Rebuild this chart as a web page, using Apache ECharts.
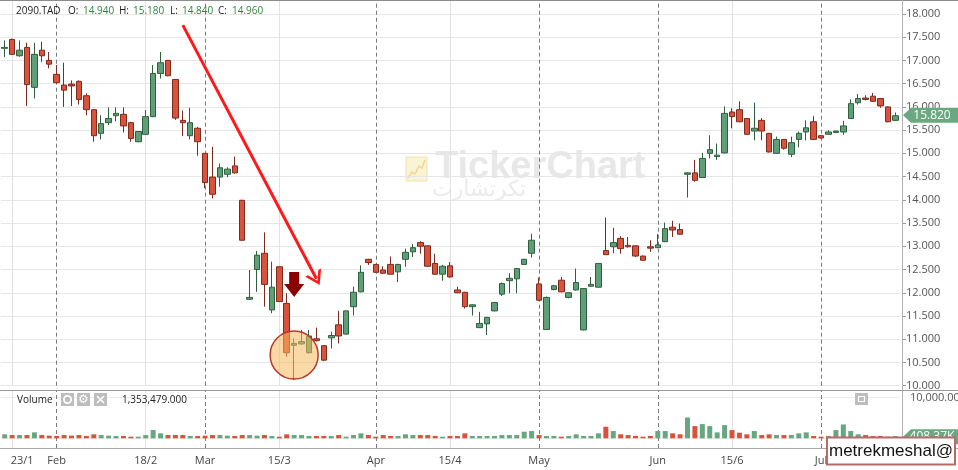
<!DOCTYPE html>
<html>
<head>
<meta charset="utf-8">
<script src="https://cdn.jsdelivr.net/npm/echarts@6/dist/echarts.min.js"></script>
<style>
  html, body { margin: 0; padding: 0; background: #fff; }
  #chart { width: 958px; height: 470px; }
</style>
</head>
<body>
<div id="chart"></div>
<script>
// trading days (Sun-Thu), 2020
const dates = [
  '22/1','23/1','26/1','27/1','28/1','29/1','30/1',
  '2/2','3/2','4/2','5/2','6/2','9/2','10/2','11/2','12/2','13/2',
  '16/2','17/2','18/2','19/2','20/2','23/2','24/2','25/2','26/2','27/2',
  '1/3','2/3','3/3','4/3','5/3','8/3','9/3','10/3','11/3','12/3',
  '15/3','16/3','17/3','18/3','19/3','22/3','23/3','24/3','25/3','26/3',
  '29/3','30/3','31/3','1/4','2/4','5/4','6/4','7/4','8/4','9/4',
  '12/4','13/4','14/4','15/4','16/4','19/4','20/4','21/4','22/4','23/4',
  '26/4','27/4','28/4','29/4','30/4','3/5','4/5','5/5','6/5','7/5',
  '10/5','11/5','12/5','13/5','14/5','17/5','18/5','19/5','20/5','21/5',
  '31/5','1/6','2/6','3/6','4/6','7/6','8/6','9/6','10/6','11/6',
  '14/6','15/6','16/6','17/6','18/6','21/6','22/6','23/6','24/6','25/6',
  '28/6','29/6','30/6','1/7','2/7','5/7','6/7','7/7','8/7','9/7',
  '12/7','13/7','14/7','15/7'
];

const opens = [
  17.26,17.45,17.10,17.28,16.42,17.22,17.00,16.70,16.47,16.49,
  16.55,16.24,15.94,15.43,15.66,15.81,15.84,15.66,15.25,15.41,
  15.79,16.72,17.00,16.59,15.71,15.38,15.54,15.00,14.49,14.49,
  14.55,14.73,13.99,11.86,12.50,12.85,11.63,12.56,11.77,10.87,
  10.90,10.71,11.01,10.86,11.03,11.31,11.11,11.70,12.02,12.72,
  12.61,12.49,12.61,12.45,12.72,12.88,13.08,13.01,12.63,12.40,
  12.58,12.06,12.01,11.70,11.25,11.33,11.61,11.97,12.26,12.30,
  12.61,12.85,12.19,11.21,12.07,12.27,11.90,12.06,11.20,12.14,
  12.12,12.91,12.99,13.17,13.02,13.01,12.79,12.99,12.97,13.10,
  13.41,13.36,14.55,14.58,14.48,15.00,14.93,15.01,15.89,15.94,
  15.75,15.48,15.71,15.43,15.00,15.30,14.98,15.30,15.46,15.68,
  15.38,15.41,15.45,15.46,15.75,16.09,16.19,16.23,16.18,16.00,
  15.71
];
const closes = [
  17.28,17.13,17.22,16.48,17.13,17.10,16.92,16.52,16.36,16.45,
  16.16,15.94,15.38,15.64,15.75,15.86,15.59,15.32,15.47,15.79,
  16.72,16.95,16.67,15.76,15.66,15.66,15.25,14.37,14.12,14.69,
  14.66,14.58,13.13,11.90,12.81,12.18,12.12,11.81,10.71,10.91,
  10.95,11.07,10.97,10.55,11.08,11.07,11.61,12.01,12.44,12.65,
  12.44,12.42,12.40,12.61,12.87,12.97,13.00,12.57,12.40,12.57,
  12.34,12.00,11.70,11.74,11.34,11.47,11.79,12.20,12.31,12.52,
  12.72,13.13,11.84,11.90,12.15,12.02,12.00,12.22,12.09,12.18,
  12.63,12.82,13.08,12.95,12.99,12.79,12.70,12.96,13.03,13.38,
  13.35,13.26,14.58,14.42,14.89,15.08,14.96,15.86,15.79,15.68,
  15.41,15.54,15.48,15.03,15.30,15.11,15.23,15.43,15.55,15.30,
  15.33,15.46,15.48,15.59,16.07,16.18,16.16,16.12,16.02,15.68,
  15.81
];
const lows = [
  17.07,17.12,17.08,16.02,16.18,16.97,16.83,16.50,16.00,16.02,
  16.05,15.82,15.25,15.30,15.61,15.69,15.45,15.25,15.24,15.40,
  15.78,16.61,16.66,15.72,15.37,15.30,14.95,14.25,14.03,14.28,
  14.49,14.56,13.12,11.85,12.02,11.70,11.56,11.80,10.62,10.12,
  10.88,10.69,10.95,10.53,10.80,10.91,11.10,11.51,12.01,12.60,
  12.43,12.41,12.39,12.23,12.56,12.77,12.84,12.56,12.39,12.26,
  12.33,11.99,11.66,11.51,11.24,11.09,11.60,11.93,11.99,11.99,
  12.60,12.76,11.83,11.20,12.05,12.01,11.88,12.05,11.19,12.13,
  12.11,12.81,12.85,12.84,12.97,12.77,12.69,12.88,12.96,13.09,
  13.20,13.25,14.05,14.39,14.47,14.89,14.86,15.00,15.54,15.67,
  15.40,15.28,15.28,15.02,14.99,15.08,14.92,15.13,15.28,15.29,
  15.32,15.40,15.44,15.40,15.74,16.05,16.14,16.11,15.98,15.67,
  15.70
];
const highs = [
  17.43,17.47,17.43,17.38,17.38,17.40,17.18,16.90,16.95,16.57,
  16.57,16.29,15.94,15.82,15.99,15.99,15.99,15.68,15.48,15.93,
  16.90,17.18,17.01,16.60,15.92,15.98,15.57,15.00,15.14,14.78,
  14.70,14.93,14.00,12.49,12.90,13.30,12.67,12.57,11.99,11.02,
  11.20,11.20,11.25,10.87,11.16,11.61,11.62,12.13,12.59,12.73,
  12.62,12.57,12.78,12.62,12.95,13.05,13.11,13.02,12.84,12.60,
  12.66,12.13,12.02,11.75,11.59,11.48,11.80,12.22,12.42,12.53,
  12.73,13.27,12.33,11.92,12.17,12.34,12.01,12.52,12.10,12.34,
  12.64,13.62,13.40,13.22,13.20,13.02,12.80,13.13,13.26,13.51,
  13.55,13.49,14.59,14.86,15.01,15.39,15.21,16.01,15.97,16.12,
  15.76,16.09,15.76,15.44,15.36,15.31,15.36,15.47,15.71,15.80,
  15.39,15.50,15.49,15.70,16.16,16.28,16.25,16.30,16.19,16.01,
  15.88
];
// volume in thousands
const volumes = [
  980,800,800,800,1460,800,650,570,800,650,
  800,570,980,800,650,570,570,400,400,800,
  2030,1220,800,800,800,570,570,650,800,800,
  650,570,800,800,650,800,570,400,980,800,
  800,570,570,570,570,800,400,800,1220,800,
  400,800,570,570,980,800,800,800,570,400,
  570,570,1220,570,570,570,570,800,800,800,
  1630,1790,800,570,570,400,570,980,570,570,
  1220,2850,1790,980,800,570,400,570,1790,1790,
  1220,980,5120,3010,3500,3010,1460,3250,2030,1380,
  980,1790,800,980,800,800,800,1220,1460,570,
  400,570,2030,3410,1790,980,800,570,570,400,
  570
];

const tickDates  = ['23/1','2/2','18/2','1/3','15/3','1/4','15/4','3/5','1/6','15/6','1/7'];
const tickLabels = ['23/1','Feb','18/2','Mar','15/3','Apr','15/4','May','Jun','15/6','Jul'];
const tickMonth  = [false,true,false,true,false,true,false,true,true,false,true];

const priceMin = 10, priceMax = 18.3, priceStep = 0.5;
const volMin = -2390, volMax = 11900, volLabel = 10000;

const lastPrice = 15.82;
const lastVolume = 408.37;
const header = { symbol: '2090.TAD', o: '14.940', h: '15.180', l: '14.840', c: '14.960' };
const shownVolume = '1,353,479.000';

// annotations (category index, price)
const trendFrom = [24, 17.76];
const trendTo = [42, 12.30];
const focusIdx = 39;
const focusPrice = 10.66;
const pointerPrice = 12.18;

const UP = '#5f9f78', UP_B = '#2f5f3f';
const DOWN = '#d9533c', DOWN_B = '#7d2b1f';
const FONT = 'Open Sans';

const chart = echarts.init(document.getElementById('chart'));

const candleData = opens.map((o, i) => [o, closes[i], lows[i], highs[i]]);
const volData = volumes.map((v, i) => ({
  value: v,
  itemStyle: { color: closes[i] >= opens[i] ? '#67a680' : '#d9533c' }
}));

const vLines = tickDates.map((d, k) => ({
  xAxis: d,
  lineStyle: tickMonth[k]
    ? { color: '#7a7a7a', type: [4, 3], width: 1 }
    : { color: '#e2e2e2', type: 'solid', width: 1 }
}));

const option = {
  animation: false,
  backgroundColor: '#fff',
  grid: [
    { left: 1, width: 898, top: 0, height: 385.7, outerBoundsMode: 'none', containLabel: false },
    { left: 1, width: 898, top: 390, height: 58, outerBoundsMode: 'none', containLabel: false }
  ],
  xAxis: [
    { type: 'category', gridIndex: 0, data: dates, boundaryGap: true, show: false },
    {
      type: 'category', gridIndex: 1, data: dates, boundaryGap: true,
      axisLine: { show: false }, axisTick: { show: false },
      splitLine: { show: false },
      axisLabel: {
        interval: (idx, val) => tickDates.indexOf(val) >= 0,
        formatter: (val) => {
          const k = tickDates.indexOf(val);
          if (k < 0) return '';
          return k === 0 ? '{s|' + tickLabels[k] + '}' : tickLabels[k];
        },
        margin: 7, color: '#444', fontSize: 11, fontFamily: FONT,
        rich: { s: { padding: [0, 0, 0, 20], color: '#444', fontSize: 11, fontFamily: FONT } }
      }
    }
  ],
  yAxis: [
    {
      type: 'value', gridIndex: 0, position: 'right', offset: 3,
      min: priceMin, max: priceMax, interval: priceStep,
      axisLine: { show: false },
      axisTick: { show: true, length: 4, lineStyle: { color: '#999' } },
      axisLabel: {
        showMaxLabel: false, margin: 4, color: '#555', fontSize: 11, fontFamily: FONT,
        formatter: (v) => v.toFixed(3)
      },
      splitLine: { lineStyle: { color: '#e6e6e6' } }
    },
    {
      type: 'value', gridIndex: 1, position: 'right', offset: 3,
      min: volMin, max: volMax, splitNumber: 1, minInterval: volLabel, maxInterval: volLabel,
      axisLine: { show: false },
      axisTick: { show: false },
      axisLabel: {
        showMinLabel: false, showMaxLabel: false, margin: 8,
        color: '#555', fontSize: 11, fontFamily: FONT,
        formatter: (v) => v === volLabel ? '10,000.00K' : ''
      },
      splitLine: { lineStyle: { color: '#ececec' } }
    }
  ],
  series: [
    {
      type: 'line', xAxisIndex: 0, yAxisIndex: 0, data: dates.map(() => null),
      symbol: 'none', silent: true,
      markLine: { z: 1, silent: true, symbol: 'none', label: { show: false }, data: vLines }
    },
    {
      type: 'line', xAxisIndex: 1, yAxisIndex: 1, data: dates.map(() => null),
      symbol: 'none', silent: true,
      markLine: { z: 1, silent: true, symbol: 'none', label: { show: false }, data: vLines }
    },
    {
      type: 'candlestick', xAxisIndex: 0, yAxisIndex: 0, z: 3,
      data: candleData, barWidth: 6,
      itemStyle: { color: UP, color0: DOWN, borderColor: UP_B, borderColor0: DOWN_B, borderWidth: 1 },
      markLine: {
        z: 6, silent: true, label: { show: false },
        symbol: ['none', 'path://M10,0 L20,17 L16.5,17 L10,6 L3.5,17 L0,17 Z'],
        symbolSize: [18, 14],
        lineStyle: { color: '#ff1a1a', width: 3, type: 'solid' },
        data: [[{ coord: trendFrom }, { coord: trendTo }]]
      },
      markPoint: {
        z: 6, silent: true, label: { show: false },
        data: [
          {
            coord: [focusIdx, focusPrice], symbol: 'circle', symbolSize: 48,
            itemStyle: { color: 'rgba(248,185,95,0.55)', borderColor: '#b8392b', borderWidth: 1.5 }
          },
          {
            coord: [focusIdx, pointerPrice], symbol: 'path://M5,0 L15,0 L15,12 L20,12 L10,25 L0,12 L5,12 Z',
            symbolSize: [20, 25], itemStyle: { color: '#8b0000' }
          }
        ]
      }
    },
    {
      type: 'bar', xAxisIndex: 1, yAxisIndex: 1, z: 3,
      data: volData, barWidth: 5
    }
  ]
};
chart.setOption(option);

// decorations and value tags
const py = chart.convertToPixel({ yAxisIndex: 0 }, lastPrice);
const vy = chart.convertToPixel({ yAxisIndex: 1 }, lastVolume);
const tag = (y, text, z) => ([
  {
    type: 'polygon', z: z, silent: true,
    shape: { points: [[903, y], [911, y - 7.5], [958, y - 7.5], [958, y + 7.5], [911, y + 7.5]] },
    style: { fill: '#6aa882' }
  },
  {
    type: 'text', z: z + 1, silent: true, x: 932, y: y,
    style: { text: text, fill: '#fff', font: '12px ' + FONT, align: 'center', verticalAlign: 'middle' }
  }
]);
const txt = (x, y, text, fill, size) => ({
  type: 'text', silent: true, x: x, y: y, z: 50,
  style: { text: text, fill: fill, font: (size || 10) + 'px ' + FONT, verticalAlign: 'middle' }
});

const graphic = [
  // watermark
  { type: 'rect', z: -5, silent: true, shape: { x: 406, y: 157, width: 21, height: 24 },
    style: { fill: '#faf3d6', stroke: '#efe3b0', lineWidth: 1 } },
  { type: 'polyline', z: -4, silent: true,
    shape: { points: [[408, 178], [412, 172], [415, 174], [419, 166], [422, 168], [425, 160]] },
    style: { stroke: '#ecd98f', lineWidth: 1.5, fill: null } },
  { type: 'text', z: -5, silent: true, x: 435, y: 168,
    style: { text: 'TickerChart', fill: '#e8e8e8', font: 'bold 38px "Liberation Sans"', verticalAlign: 'middle' } },
  { type: 'text', z: -5, silent: true, x: 432, y: 190,
    style: { text: 'تكرتشارت', fill: '#ebebeb', font: '22px "DejaVu Sans"', verticalAlign: 'middle' } },

  // pane borders
  { type: 'line', z: 40, silent: true, shape: { x1: 0, y1: 0.5, x2: 958, y2: 0.5 }, style: { stroke: '#8c8c8c', lineWidth: 1 } },
  { type: 'line', z: 40, silent: true, shape: { x1: 0, y1: 390.5, x2: 958, y2: 390.5 }, style: { stroke: '#9a9a9a', lineWidth: 1 } },
  { type: 'line', z: 40, silent: true, shape: { x1: 0, y1: 448.5, x2: 958, y2: 448.5 }, style: { stroke: '#a8a8a8', lineWidth: 1 } },
  { type: 'line', z: 40, silent: true, shape: { x1: 902.5, y1: 0, x2: 902.5, y2: 448 }, style: { stroke: '#b0b0b0', lineWidth: 1 } },

  // header
  txt(16, 11, header.symbol, '#222'),
  txt(68, 11, 'O:', '#222'), txt(83, 11, header.o, '#2e8540'),
  txt(119, 11, 'H:', '#222'), txt(133, 11, header.h, '#2e8540'),
  txt(170, 11, 'L:', '#222'), txt(182, 11, header.l, '#2e8540'),
  txt(218, 11, 'C:', '#222'), txt(232, 11, header.c, '#2e8540'),

  // volume pane header
  txt(17, 400, 'Volume', '#222'),
  { type: 'rect', z: 50, silent: true, shape: { x: 61, y: 393, width: 13, height: 13 }, style: { fill: '#bdbdbd' } },
  { type: 'circle', z: 51, silent: true, shape: { cx: 67.5, cy: 399.5, r: 3.6 }, style: { fill: null, stroke: '#fff', lineWidth: 1.8 } },
  { type: 'rect', z: 50, silent: true, shape: { x: 77, y: 393, width: 13, height: 13 }, style: { fill: '#bdbdbd' } },
  { type: 'text', z: 51, silent: true, x: 83.5, y: 400,
    style: { text: '⚙', fill: '#fff', font: '12px "DejaVu Sans"', align: 'center', verticalAlign: 'middle' } },
  { type: 'rect', z: 50, silent: true, shape: { x: 94, y: 393, width: 13, height: 13 }, style: { fill: '#bdbdbd' } },
  { type: 'line', z: 51, silent: true, shape: { x1: 97, y1: 396, x2: 104, y2: 403 }, style: { stroke: '#fff', lineWidth: 1.6 } },
  { type: 'line', z: 51, silent: true, shape: { x1: 104, y1: 396, x2: 97, y2: 403 }, style: { stroke: '#fff', lineWidth: 1.6 } },
  txt(122, 400, shownVolume, '#222'),
  { type: 'rect', z: 50, silent: true, shape: { x: 855, y: 393, width: 13, height: 12 }, style: { fill: '#bdbdbd' } },
  { type: 'rect', z: 51, silent: true, shape: { x: 858.5, y: 396.5, width: 6, height: 5 }, style: { fill: null, stroke: '#fff', lineWidth: 1.2 } }
]
  .concat(tag(py, lastPrice.toFixed(3), 60))
  .concat(tag(vy, lastVolume.toFixed(2) + 'K', 60))
  .concat([
    { type: 'rect', z: 80, silent: true, shape: { x: 827, y: 437.5, width: 128, height: 27 },
      style: { fill: '#fff', stroke: '#b86a6a', lineWidth: 2 } },
    { type: 'text', z: 81, silent: true, x: 891, y: 451.5,
      style: { text: 'metrekmeshal@', fill: '#111', font: '17px "Liberation Sans"', align: 'center', verticalAlign: 'middle' } }
  ]);

chart.setOption({ graphic: graphic });
window.addEventListener('resize', () => chart.resize());
</script>
</body>
</html>
